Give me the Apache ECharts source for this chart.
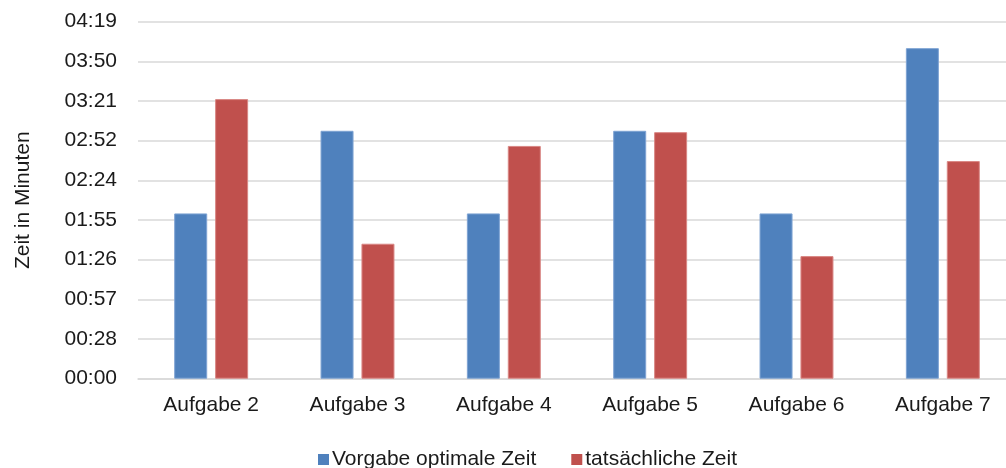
<!DOCTYPE html>
<html>
<head>
<meta charset="utf-8">
<script src="https://cdn.jsdelivr.net/npm/echarts@6/dist/echarts.min.js"></script>
<style>
  html, body { margin: 0; padding: 0; background: #fff; overflow: hidden; }
  #chart { width: 1016px; height: 468px; }
</style>
</head>
<body>
<div id="chart"></div>
<script>
// Aufgaben und Zeiten (in Sekunden)
const categories = ['Aufgabe 2', 'Aufgabe 3', 'Aufgabe 4', 'Aufgabe 5', 'Aufgabe 6', 'Aufgabe 7'];
const seriesNames = ['Vorgabe optimale Zeit', 'tatsächliche Zeit'];
const vorgabeZeit = [120, 180, 120, 180, 120, 240];
const tatsaechlicheZeit = [203, 98, 169, 179, 89, 158];
// Achsenschritt: 1/3000 Tag = 28,8 s, bis 04:19
const axisStep = 28.8;
const axisMax = 259.2;

const font = 'Liberation Sans, Arial, sans-serif';
const textColor = '#1a1a1a';

function mmss(v) {
  const s = Math.floor(v + 1e-6);
  const m = Math.floor(s / 60);
  const r = s % 60;
  return String(m).padStart(2, '0') + ':' + String(r).padStart(2, '0');
}

const chart = echarts.init(document.getElementById('chart'), null, { renderer: 'canvas' });
chart.setOption({
  animation: false,
  backgroundColor: '#ffffff',
  textStyle: { fontFamily: font },
  grid: { left: 138, top: 21.7, right: 0, bottom: 89.3, containLabel: false },
  legend: {
    data: seriesNames,
    left: 313,
    top: 444,
    itemWidth: 11,
    itemHeight: 11,
    itemGap: 35,
    icon: 'rect',
    itemStyle: { borderWidth: 0 },
    textStyle: { fontSize: 21, color: textColor, fontFamily: font, padding: [0, 0, 0, -2] }
  },
  xAxis: {
    type: 'category',
    data: categories,
    axisTick: { show: false },
    axisLine: { show: true, lineStyle: { color: '#d9d9d9', width: 1.5 } },
    axisLabel: { fontSize: 21, color: textColor, fontFamily: font, margin: 16 }
  },
  yAxis: {
    type: 'value',
    min: 0,
    max: axisMax,
    interval: axisStep,
    name: 'Zeit in Minuten',
    nameLocation: 'middle',
    nameRotate: 90,
    nameGap: 104,
    nameTextStyle: { fontSize: 21, color: textColor, fontFamily: font },
    axisLine: { show: false },
    axisTick: { show: false },
    axisLabel: { fontSize: 21, color: textColor, fontFamily: font, margin: 21, formatter: mmss },
    splitLine: { lineStyle: { color: '#d9d9d9', width: 1.5 } }
  },
  series: [
    {
      name: seriesNames[0],
      type: 'bar',
      data: vorgabeZeit,
      barWidth: 33,
      barGap: '24%',
      itemStyle: { color: '#4f81bd', borderColor: '#7ea3d3', borderWidth: 1 }
    },
    {
      name: seriesNames[1],
      type: 'bar',
      data: tatsaechlicheZeit,
      barWidth: 33,
      barGap: '24%',
      itemStyle: { color: '#c0504d', borderColor: '#d98784', borderWidth: 1 }
    }
  ]
});
</script>
</body>
</html>
